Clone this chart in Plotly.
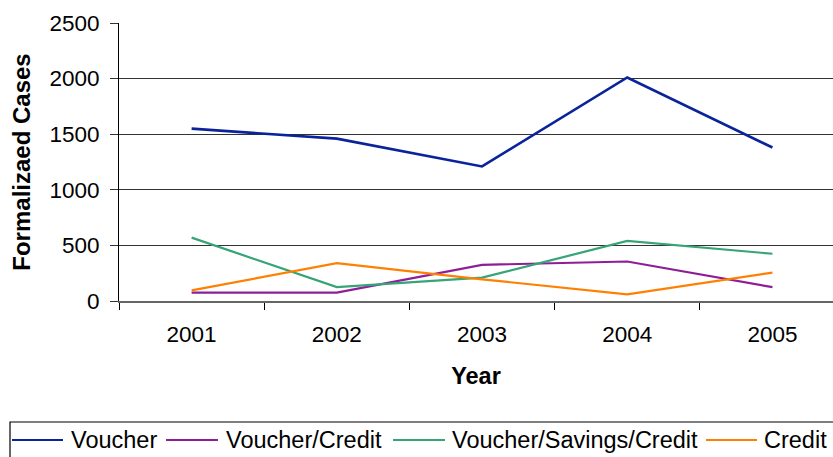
import plotly.graph_objects as go

years = ["2001", "2002", "2003", "2004", "2005"]
series_names = ["Voucher", "Voucher/Credit", "Voucher/Savings/Credit", "Credit"]
voucher = [1550, 1460, 1210, 2010, 1380]
voucher_credit = [75, 75, 325, 355, 125]
voucher_savings_credit = [570, 125, 210, 540, 425]
credit = [95, 340, 195, 60, 255]

series_values = [voucher, voucher_credit, voucher_savings_credit, credit]
colors = ["#0A239B", "#8E1E98", "#36A476", "#FF8000"]
widths = [2.6, 2.2, 2.2, 2.2]

W, H = 833, 457
L, T, B = 119, 23, 156
plot_w = W - L
plot_h = H - T - B

FONT = "Liberation Sans, Arial, sans-serif"

fig = go.Figure()
for name, vals, col, w in zip(series_names, series_values, colors, widths):
    fig.add_trace(go.Scatter(x=years, y=vals, mode="lines", name=name,
                             line=dict(color=col, width=w), showlegend=False))


def px_x(p):
    return (p - L) / plot_w


def px_y(p):
    return (H - B - p) / plot_h


# hand-built legend box along the bottom
shapes = [dict(type="rect", xref="paper", yref="paper",
               x0=px_x(10), x1=px_x(845), y0=px_y(422), y1=px_y(470),
               line=dict(color="black", width=1.2), fillcolor="rgba(0,0,0,0)")]
annotations = []
legend_lines = [(12, 63), (166, 218), (393, 445), (706, 757)]
legend_text_x = [69, 224, 450, 762]
ly = 440
for (a, b), tx, name, col in zip(legend_lines, legend_text_x, series_names, colors):
    shapes.append(dict(type="line", xref="paper", yref="paper",
                       x0=px_x(a), x1=px_x(b), y0=px_y(ly), y1=px_y(ly),
                       line=dict(color=col, width=2)))
    annotations.append(dict(xref="paper", yref="paper", x=px_x(tx), y=px_y(ly),
                            text=name, showarrow=False, xanchor="left", yanchor="middle",
                            font=dict(family=FONT, size=23.5, color="black")))

fig.update_layout(
    width=W, height=H,
    margin=dict(l=L, r=0, t=T, b=B, pad=0),
    paper_bgcolor="white", plot_bgcolor="white",
    font=dict(family=FONT, color="black"),
    shapes=shapes, annotations=annotations,
    showlegend=False,
)
fig.update_xaxes(
    type="category", range=[-0.5, 4.417], tickson="boundaries",
    ticks="outside", ticklen=7, tickcolor="black", tickwidth=1,
    showgrid=False, showline=True, linecolor="#666", linewidth=2,
    tickfont=dict(size=22.5), ticklabelstandoff=12,
    title=dict(text="<b>Year</b>", font=dict(size=23.5), standoff=22),
)
fig.update_yaxes(
    range=[0, 2500], tickvals=[0, 500, 1000, 1500, 2000, 2500],
    ticks="outside", ticklen=8, tickcolor="#333", tickwidth=1,
    showgrid=True, gridcolor="#333", gridwidth=1,
    zeroline=False, showline=True, linecolor="black", linewidth=1,
    tickfont=dict(size=22.5), ticklabelstandoff=6,
    title=dict(text="<b>Formalizaed Cases</b>", font=dict(size=24), standoff=12),
)

fig.write_html("out.html")
